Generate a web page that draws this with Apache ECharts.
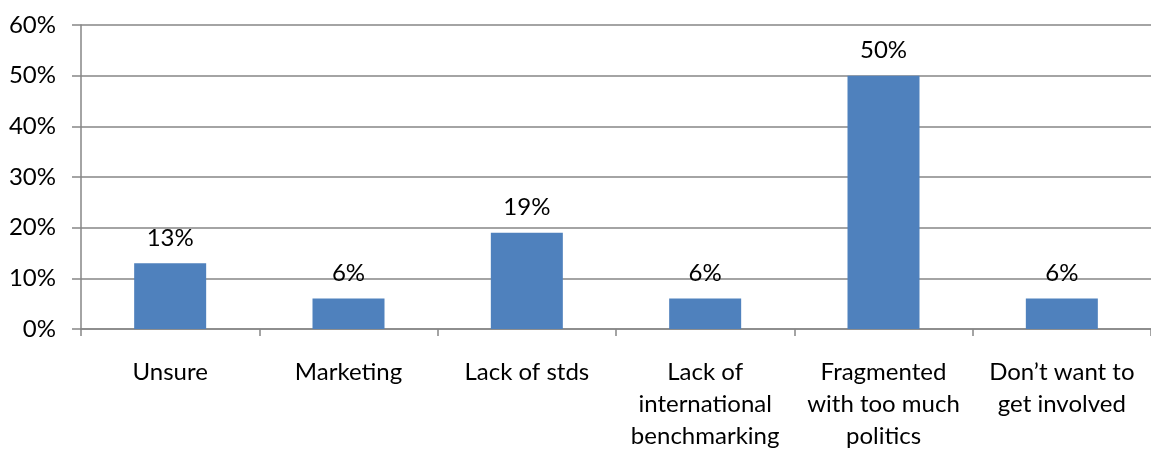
<!DOCTYPE html>
<html>
<head>
<meta charset="utf-8">
<script src="https://cdn.jsdelivr.net/npm/echarts@6/dist/echarts.min.js"></script>
<style>html,body{margin:0;padding:0;background:#fff;}#c{width:1151px;height:452px;}</style>
</head>
<body>
<div id="c"></div>
<script>
var categories = ["Unsure", "Marketing", "Lack of stds", "Lack of\ninternational\nbenchmarking", "Fragmented\nwith too much\npolitics", "Don\u2019t want to\nget involved"];
var values = [13, 6, 19, 6, 50, 6];
var yTicks = [0, 10, 20, 30, 40, 50, 60];

var chart = echarts.init(document.getElementById('c'), null, {renderer: 'canvas'});
var font = 'Lato';
chart.setOption({
  animation: false,
  grid: {left: 81, top: 25, width: 1075, height: 308, containLabel: false},
  xAxis: {
    type: 'category',
    data: categories,
    axisLine: {show: true, lineStyle: {color: '#868686', width: 1.5}},
    axisTick: {show: true, alignWithLabel: false, length: 7, lineStyle: {color: '#868686', width: 1.5}},
    axisLabel: {interval: 0, color: '#000', fontFamily: font, fontSize: 24, lineHeight: 32, margin: 27, align: 'center'},
    splitLine: {show: false}
  },
  yAxis: {
    type: 'value',
    min: yTicks[0],
    max: yTicks[yTicks.length - 1],
    interval: 10,
    axisLine: {show: true, lineStyle: {color: '#868686', width: 1.5}},
    axisTick: {show: true, length: 9, lineStyle: {color: '#868686', width: 1.5}},
    axisLabel: {color: '#000', fontFamily: font, fontSize: 24, margin: 25, formatter: function (v) { return v + '%'; }},
    splitLine: {show: true, lineStyle: {color: '#868686', width: 1.5}}
  },
  series: [{
    type: 'bar',
    data: values,
    barWidth: 72,
    itemStyle: {color: '#4F81BD'},
    label: {show: true, position: 'top', distance: 13, color: '#000', fontFamily: font, fontSize: 24, formatter: function (p) { return p.value + '%'; }}
  }]
});
</script>
</body>
</html>
